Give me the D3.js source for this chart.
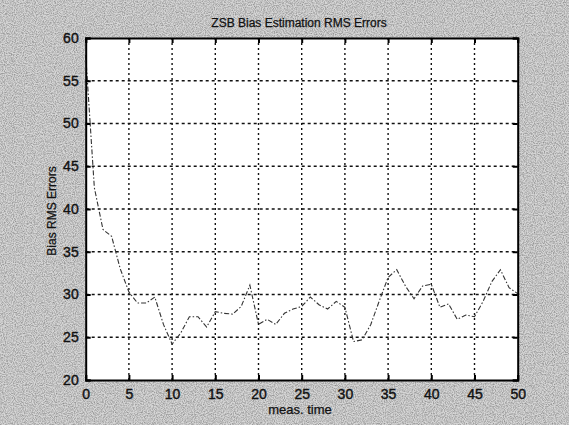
<!DOCTYPE html>
<html><head><meta charset="utf-8">
<script src="https://cdn.jsdelivr.net/npm/d3@7/dist/d3.min.js"></script>
<style>html,body{margin:0;padding:0;background:#bcbcbc;}svg{display:block;}</style>
</head><body>
<svg id="chart" width="569" height="425"></svg>
<script>
const titleText = "ZSB Bias Estimation RMS Errors";
const xLabel = "meas. time";
const yLabel = "Bias RMS Errors";
const xTicks = [0, 5, 10, 15, 20, 25, 30, 35, 40, 45, 50];
const yTicks = [20, 25, 30, 35, 40, 45, 50, 55, 60];
const times = [0,1,2,3,4,5,6,7,8,9,10,11,12,13,14,15,16,17,18,19,20,21,22,23,24,25,26,27,28,29,30,31,32,33,34,35,36,37,38,39,40,41,42,43,44,45,46,47,48,49,50];
const rmsErrors = [58,42.5,37.6,36.8,33,30.3,29,29,29.7,26.5,24.2,25.5,27.4,27.4,26.2,28,27.8,27.7,28.6,31.1,26.5,27.1,26.5,27.8,28.3,28.6,29.7,28.8,28.3,29.2,28.5,24.5,24.7,26.5,29.3,32,32.9,31,29.5,31,31.2,28.5,28.9,27.1,27.6,27.4,29.2,31.5,32.9,30.8,30.1];

const svg = d3.select("#chart");
const W = 569, H = 425;
const L = 85.7, R = 517.7, T = 38, B = 380;

// scanned-paper style background
const defs = svg.append("defs");
const f = defs.append("filter").attr("id","noise").attr("x",0).attr("y",0).attr("width","100%").attr("height","100%");
f.append("feTurbulence").attr("type","fractalNoise").attr("baseFrequency","0.9").attr("numOctaves",2).attr("seed",3).attr("result","t");
f.append("feColorMatrix").attr("in","t").attr("type","matrix")
 .attr("values","0 0 0 0 0  0 0 0 0 0  0 0 0 0 0  0 0 0 -1.6 1.05").attr("result","a");
f.append("feComposite").attr("in","SourceGraphic").attr("in2","a").attr("operator","in");
svg.append("rect").attr("width",W).attr("height",H).attr("fill","#d6d6d6");
svg.append("rect").attr("width",W).attr("height",H).attr("fill","#6e6e6e").attr("filter","url(#noise)").attr("opacity",0.8);

const x = d3.scaleLinear().domain([0,50]).range([L,R]);
const y = d3.scaleLinear().domain([20,60]).range([B,T]);

svg.append("rect").attr("x",L).attr("y",T).attr("width",R-L).attr("height",B-T).attr("fill","#fff");

// grid
const g = svg.append("g");
g.selectAll(".gx").data(xTicks.slice(1,-1)).join("line")
 .attr("x1",d=>x(d)).attr("x2",d=>x(d)).attr("y1",T).attr("y2",B)
 .attr("stroke","#111").attr("stroke-width",1.4).attr("stroke-dasharray","2,3");
g.selectAll(".gy").data(yTicks.slice(1,-1)).join("line")
 .attr("y1",d=>y(d)).attr("y2",d=>y(d)).attr("x1",L).attr("x2",R)
 .attr("stroke","#111").attr("stroke-width",1.4).attr("stroke-dasharray","3,3");

// data line
const line = d3.line().x((d,i)=>x(times[i])).y(d=>y(d));
svg.append("path").datum(rmsErrors).attr("d",line).attr("fill","none")
 .attr("stroke","#333").attr("stroke-width",1.1).attr("stroke-dasharray","5,2,1.5,2");

// axes (inward ticks, MATLAB style)
const axB = d3.axisBottom(x).tickValues(xTicks).tickSize(-5).tickPadding(9);
const axL = d3.axisLeft(y).tickValues(yTicks).tickSize(-5).tickPadding(7);
const axT = d3.axisTop(x).tickValues(xTicks).tickSize(-5).tickFormat("");
const axR = d3.axisRight(y).tickValues(yTicks).tickSize(-5).tickFormat("");
function style(sel){
  sel.select(".domain").attr("stroke","#000").attr("stroke-width",2);
  sel.selectAll(".tick line").attr("stroke","#000").attr("stroke-width",2);
  sel.selectAll(".tick text").attr("fill","#111").attr("font-family","Liberation Sans, Arial, sans-serif")
     .attr("font-size",14).attr("stroke","#111").attr("stroke-width",0.4);
}
svg.append("g").attr("transform",`translate(0,${B})`).call(axB).call(style);
svg.append("g").attr("transform",`translate(${L},0)`).call(axL).call(style);
svg.append("g").attr("transform",`translate(0,${T})`).call(axT).call(style);
svg.append("g").attr("transform",`translate(${R},0)`).call(axR).call(style);

svg.append("text").attr("x",299).attr("y",27).attr("text-anchor","middle")
 .attr("font-family","Liberation Sans, Arial, sans-serif").attr("font-size",12).attr("fill","#111")
 .attr("stroke","#111").attr("stroke-width",0.25).text(titleText);
svg.append("text").attr("x",300).attr("y",414).attr("text-anchor","middle")
 .attr("font-family","Liberation Sans, Arial, sans-serif").attr("font-size",13).attr("fill","#111")
 .attr("stroke","#111").attr("stroke-width",0.25).text(xLabel);
svg.append("text").attr("transform","translate(56,211) rotate(-90)").attr("text-anchor","middle")
 .attr("font-family","Liberation Sans, Arial, sans-serif").attr("font-size",12).attr("fill","#111")
 .attr("stroke","#111").attr("stroke-width",0.25).text(yLabel);
</script>
</body></html>
